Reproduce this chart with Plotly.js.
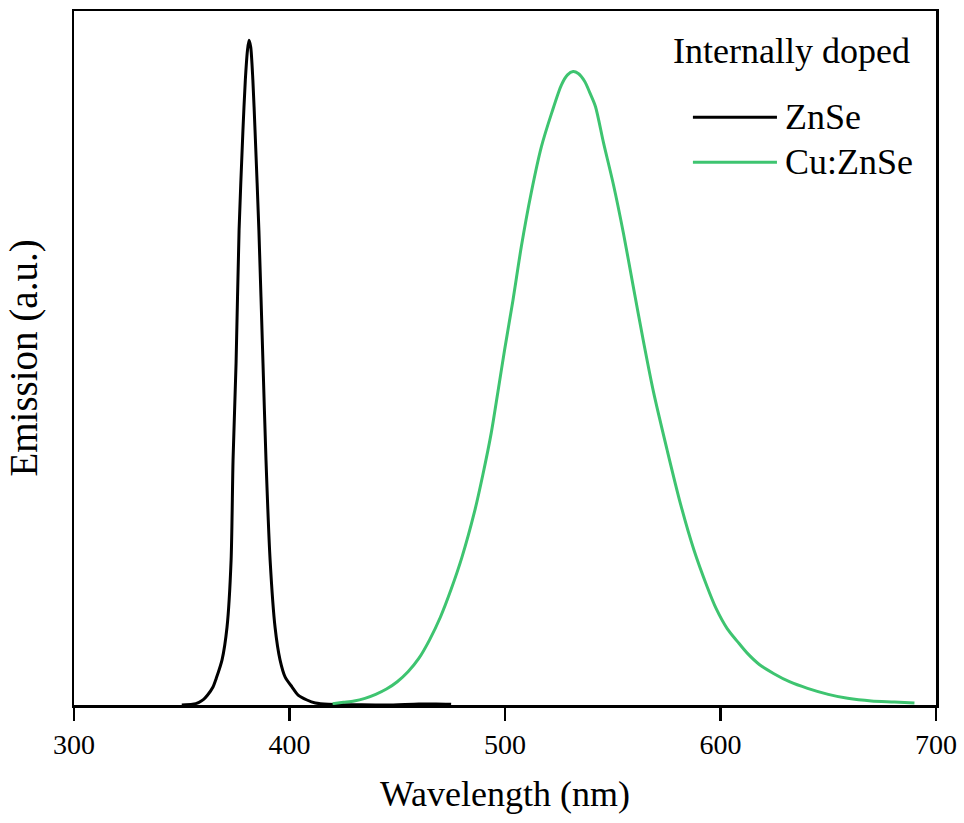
<!DOCTYPE html>
<html>
<head>
<meta charset="utf-8">
<script src="https://cdn.plot.ly/plotly-3.0.1.min.js"></script>
<style>html,body{margin:0;padding:0;background:#fff;}#chart{width:964px;height:823px;}</style>
</head>
<body>
<div id="chart"></div>
<script>
// ---- data ----
const seriesNames = ["ZnSe", "Cu:ZnSe"];
const legendTitle = "Internally doped";
const xTickVals = [300, 400, 500, 600, 700];

const znseWavelength = [350, 355, 358, 360, 362, 364.5, 366, 368.7, 371, 372.9, 373.8, 375.2, 376.6, 378.4, 379.5, 380.5, 381.2, 382, 383, 384, 385.8, 387.7, 389.1, 391, 393.3, 395.6, 398, 401.2, 404, 408.1, 412, 418, 430, 445, 460, 468, 475];
const znseEmission   = [0.0, 0.001, 0.004, 0.008, 0.015, 0.027, 0.040, 0.068, 0.117, 0.218, 0.368, 0.514, 0.714, 0.865, 0.94, 0.985, 1.0, 0.99, 0.94, 0.865, 0.714, 0.514, 0.368, 0.218, 0.117, 0.068, 0.042, 0.027, 0.015, 0.0075, 0.003, 0.001, 0.0005, 0.0, 0.0015, 0.0015, 0.001];

const cuWavelength = [420, 425, 430, 435, 440, 445, 450, 455, 460, 465, 470, 475, 480, 485.8, 489.7, 493.6, 496.7, 499.8, 503.7, 507.6, 512.2, 516.9, 521.6, 526.2, 529, 531.6, 534, 537, 539.5, 542, 545.7, 550.3, 555.0, 559.6, 564.3, 568.9, 575.2, 581.4, 587.6, 593.8, 598, 603.1, 608, 612.4, 618, 624.8, 632, 640.4, 650, 659, 670, 680.7, 690];
const cuEmission   = [0.002, 0.004, 0.006, 0.010, 0.016, 0.024, 0.035, 0.050, 0.070, 0.098, 0.132, 0.174, 0.222, 0.290, 0.346, 0.409, 0.471, 0.534, 0.609, 0.690, 0.771, 0.840, 0.890, 0.933, 0.948, 0.953, 0.950, 0.938, 0.920, 0.900, 0.846, 0.783, 0.709, 0.628, 0.546, 0.471, 0.384, 0.303, 0.234, 0.178, 0.145, 0.115, 0.095, 0.078, 0.061, 0.047, 0.035, 0.025, 0.016, 0.010, 0.006, 0.0045, 0.003];

const colors = ["#000000", "#3ec470"];
const FONT = "Liberation Serif, Times New Roman, serif";

const traces = [
  {x: znseWavelength, y: znseEmission, name: seriesNames[0], type: "scatter", mode: "lines",
   line: {color: colors[0], width: 3, shape: "spline", smoothing: 0.7}, showlegend: false},
  {x: cuWavelength, y: cuEmission, name: seriesNames[1], type: "scatter", mode: "lines",
   line: {color: colors[1], width: 3, shape: "spline", smoothing: 0.8}, showlegend: false}
];

// legend drawn as paper-space keys + labels
const legY = [0.847, 0.782];
const shapes = seriesNames.map((n, i) => ({
  type: "line", xref: "paper", yref: "paper", x0: 0.718, x1: 0.8155, y0: legY[i], y1: legY[i],
  line: {color: colors[i], width: 3}
}));
const annotations = [
  {text: legendTitle, xref: "paper", yref: "paper", x: 0.693, y: 0.943, xanchor: "left", yanchor: "middle",
   showarrow: false, font: {family: FONT, size: 36, color: "#000"}}
].concat(seriesNames.map((n, i) => ({
  text: n, xref: "paper", yref: "paper", x: 0.822, y: legY[i], xanchor: "left", yanchor: "middle",
  showarrow: false, font: {family: FONT, size: 36, color: "#000"}
})));

const layout = {
  width: 964, height: 823,
  margin: {l: 74, r: 28, t: 11, b: 118},
  paper_bgcolor: "#fff", plot_bgcolor: "#fff",
  font: {family: FONT, color: "#000"},
  showlegend: false,
  xaxis: {
    range: [300, 700], tickvals: xTickVals, ticktext: xTickVals.map(String),
    ticks: "outside", ticklen: 13, tickwidth: 2.5, tickcolor: "#000",
    showline: true, linecolor: "#000", linewidth: 2.5, mirror: true,
    showgrid: false, zeroline: false,
    tickfont: {family: FONT, size: 28, color: "#000"},
    title: {text: "Wavelength (nm)", font: {family: FONT, size: 36, color: "#000"}, standoff: 22}
  },
  yaxis: {
    range: [0, 1.044], showticklabels: false, ticks: "",
    showline: true, linecolor: "#000", linewidth: 2.5, mirror: true,
    showgrid: false, zeroline: false,
    title: {text: "Emission (a.u.)", font: {family: FONT, size: 39, color: "#000"}, standoff: 22}
  },
  shapes: shapes,
  annotations: annotations
};

Plotly.newPlot("chart", traces, layout, {displayModeBar: false, staticPlot: true});
</script>
</body>
</html>
